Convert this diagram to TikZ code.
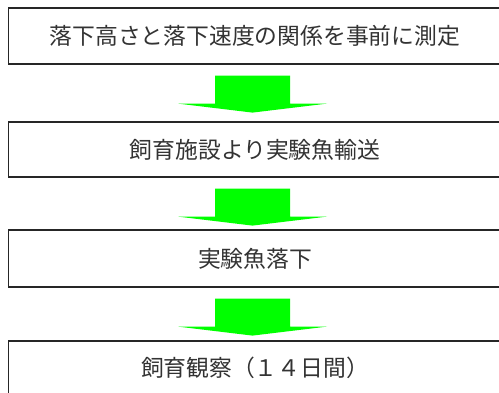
\documentclass[tikz,border=0pt]{standalone}
\usepackage{fontspec}
\newfontfamily\jpfont{Noto Sans CJK JP}
\usetikzlibrary{calc}
\definecolor{flowgreen}{RGB}{0,255,0}
\newcommand\flowarrow[1]{%
  \fill[flowgreen] let \p1=(#1.south) in
    (\x1-40pt,\y1-11pt) -- (\x1+35pt,\y1-11pt) -- (\x1+35pt,\y1-39pt) --
    (\x1+72pt,\y1-39pt) -- (\x1-2.5pt,\y1-48pt) -- (\x1-77pt,\y1-39pt) --
    (\x1-40pt,\y1-39pt) -- cycle;}
\begin{document}
\begin{tikzpicture}[x=1pt,y=-1pt,
  stepbox/.style={draw=black!85, line width=1.2pt, minimum width=493pt,
    inner sep=0pt, font=\jpfont\fontsize{22.8}{23}\selectfont, text=black!80}]
\useasboundingbox (0,0) rectangle (499,392);
\clip (0,0) rectangle (499,392);
\fill[white] (0,0) rectangle (499,392);
\node[stepbox, minimum height=56pt] (b1) at (255,36) {落下高さと落下速度の関係を事前に測定};
\node[stepbox, minimum height=55pt] (b2) at (255,149.5) {飼育施設より実験魚輸送};
\node[stepbox, minimum height=57pt] (b3) at (255,258.5) {実験魚落下};
\node[stepbox, minimum height=54pt] (b4) at (255,368) {飼育観察（１４日間）};
\flowarrow{b1}
\flowarrow{b2}
\flowarrow{b3}
\end{tikzpicture}
\end{document}
